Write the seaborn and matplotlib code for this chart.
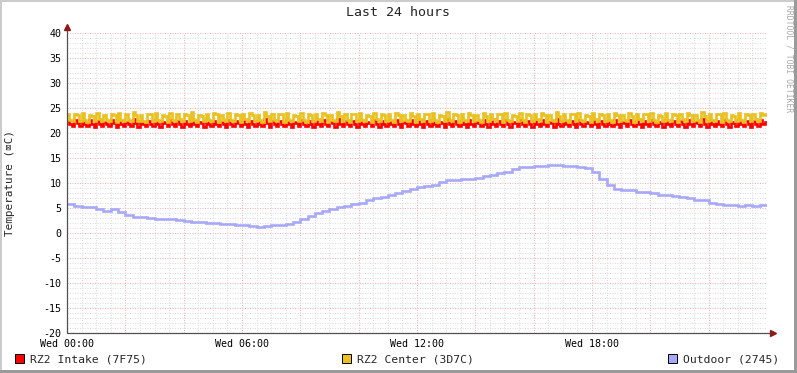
import numpy as np
import pandas as pd
import matplotlib
matplotlib.use("Agg")
import matplotlib.pyplot as plt
import seaborn as sns
from matplotlib.patches import Rectangle

sns.set_theme(style="white")
plt.rcParams['font.family'] = ['DejaVu Sans Mono', 'DejaVu Sans']

title = "Last 24 hours"
y_label = "Temperature (\u2327C)"
watermark = "RRDTOOL / TOBI OETIKER"
x_tick_hours = [0, 6, 12, 18]
x_tick_labels = ["Wed 00:00", "Wed 06:00", "Wed 12:00", "Wed 18:00"]
y_ticks = [-20, -15, -10, -5, 0, 5, 10, 15, 20, 25, 30, 35, 40]
series_names = ["RZ2 Intake (7F75)", "RZ2 Center (3D7C)", "Outdoor (2745)"]
series_colors = ["#FF0000", "#E9C120", "#A8A8F8"]

# 5-minute samples over 24 hours
intake = [
    22.4, 21.9, 21.5, 22.6, 22.0, 21.4, 22.3, 21.8, 21.5, 22.7, 21.9, 21.3,
    22.5, 21.8, 21.4, 22.3, 21.9, 21.5, 22.6, 22.0, 21.3, 22.4, 21.8, 21.5,
    22.3, 21.9, 21.4, 22.8, 22.0, 21.3, 22.4, 21.8, 21.5, 22.5, 21.9, 21.4,
    22.6, 21.8, 21.3, 22.3, 22.0, 21.5, 22.7, 21.9, 21.4, 22.4, 21.8, 21.3,
    22.5, 21.9, 21.5, 22.8, 21.8, 21.4, 22.3, 22.0, 21.3, 22.6, 21.9, 21.5,
    22.4, 21.8, 21.4, 22.3, 21.9, 21.3, 22.7, 21.8, 21.5, 22.5, 22.0, 21.4,
    22.6, 21.9, 21.3, 22.4, 21.8, 21.5, 22.3, 21.9, 21.4, 22.8, 22.0, 21.3,
    22.5, 21.8, 21.5, 22.4, 21.9, 21.4, 22.6, 21.8, 21.3, 22.3, 22.0, 21.5,
    22.7, 21.9, 21.4, 22.4, 21.8, 21.3, 22.5, 21.9, 21.5, 22.6, 21.8, 21.4,
    22.3, 22.0, 21.3, 22.8, 21.9, 21.5, 22.4, 21.8, 21.4, 22.5, 21.9, 21.3,
    22.6, 21.8, 21.5, 22.3, 22.0, 21.4, 22.7, 21.9, 21.3, 22.4, 21.8, 21.5,
    22.5, 21.9, 21.4, 22.6, 21.8, 21.3, 22.3, 22.0, 21.5, 22.7, 21.9, 21.4,
    22.4, 21.8, 21.3, 22.5, 21.9, 21.5, 22.6, 21.8, 21.4, 22.3, 22.0, 21.3,
    22.8, 21.9, 21.5, 22.4, 21.8, 21.4, 22.5, 21.9, 21.3, 22.6, 21.8, 21.5,
    22.3, 22.0, 21.4, 22.7, 21.9, 21.3, 22.4, 21.8, 21.5, 22.5, 21.9, 21.4,
    22.6, 21.8, 21.3, 22.3, 22.0, 21.5, 22.7, 21.9, 21.4, 22.4, 21.8, 21.3,
    22.5, 21.9, 21.5, 22.6, 21.8, 21.4, 22.3, 22.0, 21.3, 22.8, 21.9, 21.5,
    22.4, 21.8, 21.4, 22.5, 21.9, 21.3, 22.6, 21.8, 21.5, 22.3, 22.0, 21.4,
    22.7, 21.9, 21.3, 22.4, 21.8, 21.5, 22.5, 21.9, 21.4, 22.6, 21.8, 21.3,
    22.3, 22.0, 21.5, 22.7, 21.9, 21.4, 22.4, 21.8, 21.3, 22.5, 21.9, 21.5,
    22.6, 21.8, 21.4, 22.3, 22.0, 21.3, 22.7, 21.9, 21.5, 22.4, 21.8, 21.4,
    22.5, 21.9, 21.3, 22.6, 21.8, 21.5, 22.3, 22.0, 21.4, 22.8, 21.9, 21.3,
    22.4, 21.8, 21.5, 22.5, 21.9, 21.4, 22.6, 21.8, 21.3, 22.3, 22.0, 21.5,
    22.7, 21.9, 21.4, 22.4, 21.8, 21.3, 22.5, 21.9, 21.5, 22.6, 21.8, 22.2,
]
center = [
    23.9, 22.7, 22.4, 23.8, 23.6, 22.5, 24.0, 22.6, 22.3, 23.7, 23.5, 22.4,
    24.1, 22.8, 22.5, 23.6, 22.6, 22.4, 23.9, 23.7, 22.3, 24.0, 22.7, 22.5,
    23.8, 22.6, 22.4, 24.2, 23.6, 22.4, 23.7, 22.5, 22.3, 23.9, 23.8, 22.5,
    24.0, 22.7, 22.4, 23.6, 23.4, 22.3, 24.1, 22.6, 22.5, 23.8, 22.8, 22.4,
    23.9, 23.7, 22.4, 24.3, 22.7, 22.3, 23.7, 23.5, 22.5, 23.9, 22.6, 22.4,
    24.0, 23.8, 22.3, 23.6, 22.7, 22.5, 24.1, 22.6, 22.4, 23.8, 23.6, 22.3,
    23.9, 22.8, 22.5, 24.0, 23.7, 22.4, 23.7, 22.6, 22.3, 24.2, 23.5, 22.5,
    23.8, 22.7, 22.4, 23.9, 23.8, 22.3, 24.0, 22.6, 22.5, 23.6, 23.4, 22.4,
    24.1, 22.7, 22.3, 23.8, 23.6, 22.5, 23.9, 22.8, 22.4, 24.0, 23.7, 22.3,
    23.7, 22.6, 22.5, 24.2, 23.5, 22.4, 23.8, 22.7, 22.3, 23.9, 23.8, 22.5,
    24.0, 22.6, 22.4, 23.6, 23.4, 22.3, 24.1, 22.8, 22.5, 23.8, 23.6, 22.4,
    23.9, 22.7, 22.3, 24.0, 23.7, 22.5, 23.7, 22.6, 22.4, 24.1, 23.5, 22.3,
    23.8, 22.8, 22.5, 23.9, 23.8, 22.4, 24.0, 22.6, 22.3, 23.6, 23.5, 22.5,
    24.2, 22.7, 22.4, 23.8, 23.6, 22.3, 23.9, 22.6, 22.5, 24.0, 23.7, 22.4,
    23.7, 22.7, 22.3, 24.1, 23.5, 22.5, 23.8, 22.8, 22.4, 23.9, 23.8, 22.3,
    24.0, 22.6, 22.5, 23.6, 23.4, 22.4, 24.1, 22.7, 22.3, 23.8, 23.6, 22.5,
    23.9, 22.8, 22.4, 24.0, 23.7, 22.3, 23.7, 22.6, 22.5, 24.2, 23.5, 22.4,
    23.8, 22.7, 22.3, 23.9, 23.8, 22.5, 24.0, 22.6, 22.4, 23.6, 23.4, 22.3,
    24.1, 22.8, 22.5, 23.8, 23.6, 22.4, 23.9, 22.7, 22.3, 24.0, 23.7, 22.5,
    23.7, 22.6, 22.4, 24.1, 23.5, 22.3, 23.8, 22.8, 22.5, 23.9, 23.8, 22.4,
    24.0, 22.7, 22.3, 23.6, 23.4, 22.5, 24.1, 22.6, 22.4, 23.8, 23.6, 22.3,
    23.9, 22.8, 22.5, 24.0, 23.7, 22.4, 23.7, 22.6, 22.3, 24.2, 23.5, 22.5,
    23.8, 22.7, 22.4, 23.9, 23.8, 22.3, 24.0, 22.6, 22.5, 23.6, 23.4, 22.4,
    24.1, 22.7, 22.3, 23.8, 23.6, 22.5, 23.9, 22.8, 22.4, 24.0, 23.7, 23.8,
]
# 15-minute samples over 24 hours
outdoor = [
    5.8, 5.5, 5.2, 5.2, 4.9, 4.5, 4.9, 4.2, 3.6, 3.3, 3.2, 3.0,
    2.9, 2.8, 2.8, 2.7, 2.4, 2.3, 2.2, 2.1, 2.0, 1.9, 1.8, 1.7,
    1.6, 1.5, 1.3, 1.5, 1.6, 1.6, 1.8, 2.2, 2.8, 3.5, 4.1, 4.4,
    4.8, 5.2, 5.5, 5.8, 6.1, 6.7, 7.0, 7.3, 7.6, 8.1, 8.5, 8.8,
    9.2, 9.5, 9.7, 10.2, 10.6, 10.7, 10.8, 10.9, 11.0, 11.5, 11.7, 12.0,
    12.3, 12.9, 13.2, 13.3, 13.4, 13.4, 13.7, 13.6, 13.5, 13.4, 13.2, 13.0,
    12.2, 10.9, 9.6, 8.9, 8.7, 8.6, 8.3, 8.3, 8.1, 7.7, 7.6, 7.5,
    7.3, 7.1, 6.7, 6.7, 6.1, 5.9, 5.7, 5.6, 5.5, 5.6, 5.5, 5.7,
]

W, H = 797, 373
L, R, T, B = 67, 767, 33, 333

def frame(name, values):
    n = len(values)
    hrs = [i * 24.0 / n for i in range(n)] + [24.0]
    vals = list(values) + [values[-1]]
    return pd.DataFrame({"hour": hrs, "temp": vals, "series": name})

df = pd.concat([frame(series_names[0], intake),
                frame(series_names[1], center),
                frame(series_names[2], outdoor)], ignore_index=True)

fig = plt.figure(figsize=(W / 100, H / 100), dpi=100)
fig.patch.set_facecolor("white")
ax = fig.add_axes([L / W, 1 - B / H, (R - L) / W, (B - T) / H])
ax.set_facecolor("white")

# grid
ax.set_xlim(0, 24)
ax.set_ylim(-20, 40)
ax.set_xticks(np.arange(0, 24.01, 0.5), minor=True)
ax.set_yticks(np.arange(-20, 40.01, 1), minor=True)
ax.set_xticks(np.arange(0, 24, 2))
ax.set_yticks(y_ticks)
ax.grid(which="minor", color="#DCDCDC", linestyle=(0, (1, 1.5)), linewidth=0.72, zorder=0)
ax.grid(which="major", color="#EDB2B2", linestyle=(0, (1, 1.5)), linewidth=0.72, zorder=0)
ax.set_axisbelow(True)

sns.lineplot(data=df, x="hour", y="temp", hue="series", hue_order=series_names,
             palette=series_colors, estimator=None, sort=False,
             drawstyle="steps-post", linewidth=1.9, legend=False, ax=ax)
for ln in ax.get_lines():
    ln.set_solid_joinstyle("miter")
    ln.set_solid_capstyle("butt")

ax.set_xlabel("")
ax.set_ylabel("")
xlabels = []
for h in np.arange(0, 24, 2):
    xlabels.append(x_tick_labels[x_tick_hours.index(h)] if h in x_tick_hours else "")
ax.set_xticklabels(xlabels, fontsize=7.2, family="DejaVu Sans Mono")
ax.set_yticklabels([str(v) for v in y_ticks], fontsize=7.2, family="DejaVu Sans Mono")
ax.tick_params(axis="both", which="major", length=2, width=0.8, color="#404040",
               pad=2, labelcolor="black")
ax.tick_params(axis="both", which="minor", length=0)
for s in ax.spines.values():
    s.set_visible(False)

# axes lines with arrows
ax.plot([0, 0], [0, 1 + 5 / 300], transform=ax.transAxes, clip_on=False,
        color="#505050", linewidth=0.9, zorder=5)
ax.plot([0, 1 + 5 / 700], [0, 0], transform=ax.transAxes, clip_on=False,
        color="#505050", linewidth=0.9, zorder=5)
ax.plot([0], [1 + 6 / 300], marker="^", markersize=4, color="#8B1A1A",
        transform=ax.transAxes, clip_on=False, zorder=6)
ax.plot([1 + 6 / 700], [0], marker=">", markersize=4, color="#8B1A1A",
        transform=ax.transAxes, clip_on=False, zorder=6)

# title and labels
fig.text(398 / W, 1 - 13 / H, title, ha="center", va="center", fontsize=9.5,
         family="DejaVu Sans Mono")
fig.text(10 / W, 1 - 183 / H, y_label, rotation=90, ha="center", va="center",
         fontsize=7.9, family=["DejaVu Sans Mono", "DejaVu Sans"])
fig.text(789 / W, 1 - 5 / H, watermark, rotation=-90, ha="center", va="top",
         fontsize=5.8, color="#A8A8A8", family="DejaVu Sans Mono")

# legend
legend_x = [15, 342, 668]
for x0, name, col in zip(legend_x, series_names, series_colors):
    fig.patches.append(Rectangle((x0 / W, 1 - 363 / H), 9 / W, 9 / H,
                                 transform=fig.transFigure, facecolor=col,
                                 edgecolor="black", linewidth=0.7))
    fig.text((x0 + 15) / W, 1 - 359 / H, name, ha="left", va="center",
             fontsize=8.2, family="DejaVu Sans Mono")

# outer frame
fig.patches.append(Rectangle((0, 1 - 2 / H), 1, 2 / H, transform=fig.transFigure,
                             facecolor="#CCCCCC", edgecolor="none"))
fig.patches.append(Rectangle((0, 0), 2 / W, 1, transform=fig.transFigure,
                             facecolor="#CCCCCC", edgecolor="none"))
fig.patches.append(Rectangle((1 - 3 / W, 0), 3 / W, 1, transform=fig.transFigure,
                             facecolor="#9A9A9A", edgecolor="none"))
fig.patches.append(Rectangle((0, 0), 1, 3 / H, transform=fig.transFigure,
                             facecolor="#9A9A9A", edgecolor="none"))

fig.savefig("out.png", dpi=100, facecolor="white")
